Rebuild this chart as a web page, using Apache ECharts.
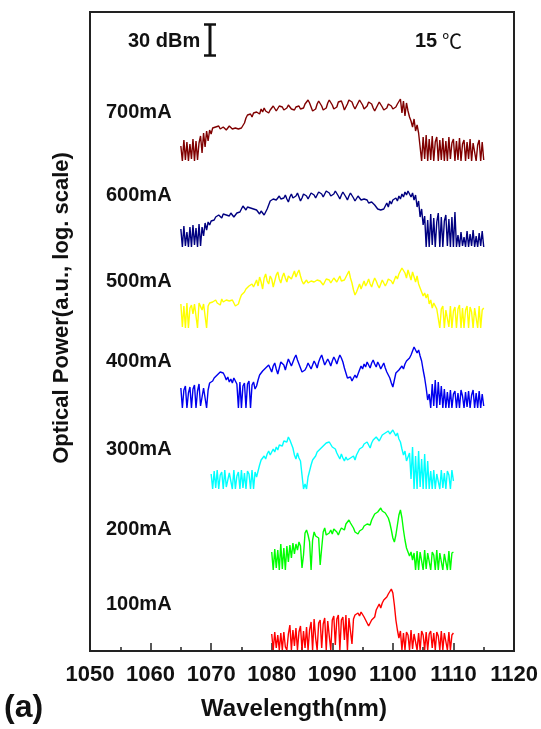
<!DOCTYPE html>
<html>
<head>
    <meta charset="utf-8" />
    <title>Optical spectra vs current</title>
    <script src="https://cdn.jsdelivr.net/npm/echarts@6/dist/echarts.min.js"></script>
    <style type="text/css">
        html, body {
            margin: 0;
            padding: 0;
            background-color: #fff;
        }

        #chart {
            width: 541px;
            height: 729px;
        }
    </style>
</head>
<body>
    <div id="chart"></div>
    <script type="text/javascript">
        // x axis ticks
        var xTicks = [1050, 1060, 1070, 1080, 1090, 1100, 1110, 1120];
        var labels = ['700mA', '600mA', '500mA', '400mA', '300mA', '200mA', '100mA'];
        var colors = ['#800000', '#000080', '#ffff00', '#0000ee', '#00ffff', '#00ff00', '#ff0000'];
        // vertical offset of each trace (a.u.), noise floor of the trace
        var offsets = [490, 404, 323, 243, 162, 81, 1];
        // first wavelength (nm) of each trace, sampling step 0.25 nm
        var startWl = [1065, 1065, 1065, 1065, 1070, 1080, 1080];
        var stepWl = 0.25;

        // heights above the trace floor (a.u., log scale)
        var p700 = [
            15, 0, 21, 1, 19, 0, 17, 2, 22, 0, 20, 1, 18,
            25, 8, 28, 14, 30, 20, 31, 27, 33, 34,
            34, 33, 35, 32, 33, 34, 32, 31, 33, 35, 33, 32, 30, 33, 34, 32, 31, 33, 34,
            38, 43, 46, 45, 47, 44, 48, 46, 49,
            50, 47, 52, 49, 53, 50, 52, 48, 51, 53,
            55, 53, 50, 52, 55, 56, 54, 51, 50, 53, 56, 55, 52, 50, 51, 54, 56, 55, 52, 51, 53, 57, 59, 61,
            58, 54, 50, 49, 52, 57, 60, 59, 55, 51, 50, 53, 58, 61, 60, 56, 52, 50, 54, 59,
            61, 60, 56, 51, 52, 57, 61, 62, 59, 55, 52, 53, 58, 61, 60, 56, 52, 51, 55, 59,
            60, 57, 53, 50, 52, 56, 59, 58, 54, 51, 50, 53, 57, 58, 55, 52, 51, 54, 57, 56,
            62, 48, 60, 45, 58, 50, 44,
            40, 34, 42, 30, 36, 28,
            27, 0, 24, 2, 26, 0, 22, 1, 25, 0, 19, 24, 0, 21, 1, 23, 0, 20, 0, 24,
            2, 18, 22, 0, 20, 1, 23, 0, 17, 21, 0, 19, 2, 22, 0, 18, 20, 0, 16, 21, 0, 19, 1
        ];
        var p600 = [
            18, 0, 21, 1, 15, 0, 20, 0, 22, 2, 19, 0, 23, 1,
            20, 11, 24, 17, 25, 22, 26, 28,
            27, 30, 29, 32, 31, 29, 33, 35, 32, 30, 31, 34, 33, 30, 32,
            34, 36, 35, 38, 41, 39, 37, 40, 42, 39, 41, 38,
            40, 37, 35, 33, 36, 34, 32, 35, 38,
            42, 46, 44, 48, 50, 47, 49, 51, 48,
            46, 49, 52, 48, 45, 50, 53, 49, 47, 51, 54, 50, 46, 49, 53, 55, 51, 48, 50, 54,
            56, 52, 49, 51, 55, 57, 53, 50, 52, 56, 58, 54, 51, 49, 53, 56, 55, 51, 48, 52,
            55, 53, 50, 47, 51, 54, 52, 49, 46, 48, 51, 50, 47, 45, 48, 50, 47, 44, 43, 45, 44, 42,
            40, 38, 36, 37, 39, 38,
            41, 44, 40, 46, 43, 47, 45, 49, 46, 51, 48, 53, 50, 55, 52,
            56, 58, 50, 54, 47,
            52, 40, 46, 30, 38, 22,
            31, 0, 27, 0, 33, 2, 29, 0, 25, 34, 0, 30, 0, 26, 32, 1, 28, 0, 30, 0, 35, 0,
            12, 0, 15, 1, 10, 0, 16, 0, 13, 1, 17, 0, 11, 0, 14, 1, 16, 0
        ];
        var p500 = [
            24, 1, 22, 0, 25, 0, 20, 23, 14, 24, 22, 0, 25, 23, 18, 24, 26, 0, 22, 25, 23,
            26, 24, 28, 25, 27, 23, 29, 26, 24, 28, 30, 27, 25, 28, 26, 22,
            20, 24, 29, 33, 31, 36, 39, 37, 42, 40, 44, 41, 43,
            48, 42, 51, 46, 39, 50, 54, 47, 44, 52, 49, 41, 47, 53, 56, 49, 45, 51, 55, 50,
            46, 52, 54, 49, 53, 57, 51, 55, 58,
            52, 47, 44, 46, 48, 45, 43, 47, 49, 46, 44, 48, 50, 47, 45, 43, 46, 49, 51, 48,
            45, 47, 50, 48, 46, 49, 52, 47, 45, 48, 51, 53,
            57, 50, 45, 38, 33, 36,
            40, 44, 39, 43, 47, 42, 45, 49, 44, 41, 46, 50, 47, 43, 40, 44, 48, 46, 42, 45,
            49, 51, 47, 44, 48, 52, 49, 54, 57,
            60, 62, 55, 50, 58, 53, 48, 56, 51, 46,
            52, 44, 40, 36, 32, 35, 30, 34,
            24, 28, 20, 25, 22, 19,
            21, 0, 19, 22, 0, 18, 20, 1, 22, 0, 17, 21, 0, 19, 23, 0, 20, 0, 18, 22,
            0, 21, 16, 0, 20, 19, 0, 22, 0, 18, 20
        ];
        var p400 = [
            20, 0, 18, 22, 0, 15, 21, 0, 19, 23, 0, 17, 24, 2, 0, 20, 22, 0, 18, 25, 23,
            27, 30, 28, 33, 31, 36, 38,
            35, 32, 28, 31, 26, 29, 25, 30, 27,
            24, 0, 26, 0, 22, 25, 0, 24, 27, 0, 23, 26, 19, 22,
            28, 33, 31, 37, 35, 40, 38, 43, 41,
            36, 42, 45, 39, 34, 40, 46, 48, 43, 38, 44, 49, 47, 42, 46, 50, 53, 48,
            44, 40, 36, 34, 38, 41,
            45, 42, 39, 43, 47, 44, 40, 46, 50, 53, 48, 43, 45, 49, 46, 42, 47, 51, 48, 44, 49,
            53, 50, 46,
            40, 35, 30, 28, 31, 27, 29, 33, 30, 34,
            38, 42, 39, 44, 41, 46, 43, 40, 45, 48, 44, 41, 46, 43, 39, 42, 45, 40, 36, 33, 30, 25, 21,
            28, 35, 33, 38, 36, 42, 39, 44, 47, 45, 50, 53, 57, 61, 59, 55, 58,
            52, 47, 38, 30, 20, 8,
            14, 0, 24, 2, 28, 0, 26, 3, 22, 0, 19, 0,
            16, 0, 18, 0, 14, 17, 0, 15, 0, 18, 12, 0, 16, 1, 17, 0, 13, 18, 0, 15, 0, 17, 0, 14, 2
        ];
        var p300 = [
            15, 0, 18, 1, 19, 0, 14, 17, 0, 19, 2, 0, 16, 18, 0, 19, 0, 13, 17, 0,
            19, 1, 16, 0, 18, 15, 0, 19, 0, 17, 12, 18,
            24, 29, 27, 33, 30, 35, 38, 34, 36, 40, 37, 42, 39, 44, 46, 43, 48, 50, 47,
            52, 49, 45, 41,
            34, 30, 36, 31, 28,
            14, 0, 5, 0, 12,
            18, 24, 29, 27, 33, 37, 35, 40, 38, 43, 41, 46, 44, 47,
            45, 42, 44, 40, 36, 33, 30, 35, 31,
            28, 32, 29, 27, 31, 30, 33, 29, 34,
            36, 40, 38, 42, 45, 43, 47, 44, 41, 46, 49, 47, 52, 50, 48, 51, 54,
            52, 56, 54, 58, 55, 57, 59, 56,
            53, 56, 50, 47,
            40, 34, 38, 28, 32,
            36, 10, 42, 0, 33, 0, 38, 2, 30, 0, 35, 0, 28, 0,
            18, 0, 19, 0, 15, 17, 0, 19, 1, 16, 0, 18, 14, 0, 19, 8
        ];
        var p200 = [
            18, 0, 21, 2, 20, 0, 26, 1, 22, 0, 24, 8, 25, 12, 27, 16, 26, 20, 28, 24,
            2, 15,
            37, 40, 35, 28, 0,
            30, 38, 34, 36, 32,
            5, 22,
            38, 42, 35, 33, 37, 40, 36, 41, 43, 38, 35, 39, 42, 44, 40, 46, 48, 50,
            47, 45, 42, 38, 40, 36, 39, 37,
            41, 44, 42, 46, 48, 45, 50, 53, 56, 54, 58, 60, 62,
            59, 61, 57, 55, 52, 47, 40, 32,
            28, 35, 45, 55,
            60, 52, 40, 30, 22,
            20, 14, 18, 10,
            17, 0, 19, 0, 18, 16, 0, 20, 1, 17, 19, 0, 18, 15, 0, 20, 0, 17, 19, 0,
            16, 18, 0, 19, 0, 17, 18
        ];
        var p100 = [
            16, 0, 18, 2, 15, 0, 17, 0, 18, 3, 0, 16,
            25, 0, 20, 4, 22, 0, 18, 24, 0, 19, 2, 23, 0, 20,
            28, 0, 31, 12, 0, 27, 30, 2, 26, 32, 0, 29, 14, 0, 30,
            34, 5, 31, 35, 0, 30, 33, 10, 35, 0, 32, 34, 6, 31, 35, 33,
            37, 34, 38, 36, 33, 35,
            27, 24, 26, 30, 28, 33,
            40, 43, 46, 42, 47, 50, 48, 53, 56, 58,
            61, 57,
            45, 30, 20, 12,
            19, 0, 17, 0, 18, 15, 0, 20, 1, 16, 18, 0, 17, 0, 19, 15, 0, 18, 0, 16,
            19, 2, 17, 0, 18, 14, 0, 19, 0, 17, 16, 0, 18, 0, 15, 17
        ];
        var traces = [p700, p600, p500, p400, p300, p200, p100];

        var font = '"Liberation Sans", Arial, sans-serif';
        var myChart = echarts.init(document.getElementById('chart'), null, { renderer: 'canvas' });

        var series = traces.map(function (vals, k) {
            return {
                name: labels[k],
                type: 'line',
                showSymbol: false,
                animation: false,
                silent: true,
                sampling: null,
                lineStyle: { color: colors[k], width: 1.4 },
                data: vals.map(function (v, i) {
                    return [startWl[k] + i * stepWl, offsets[k] + v];
                })
            };
        });

        // current labels next to each trace
        var labelY = [113, 196, 282, 362, 450, 530, 605];
        var graphics = labels.map(function (t, k) {
            return {
                type: 'text', left: 106, top: labelY[k] - 11,
                style: { text: t, font: 'bold 20px ' + font, fill: '#111' }
            };
        });
        graphics.push(
            { type: 'text', left: 128, top: 31, style: { text: '30 dBm', font: 'bold 20px ' + font, fill: '#111' } },
            { type: 'line', shape: { x1: 210, y1: 24, x2: 210, y2: 56 }, style: { stroke: '#111', lineWidth: 3 } },
            { type: 'line', shape: { x1: 204, y1: 24.5, x2: 216, y2: 24.5 }, style: { stroke: '#111', lineWidth: 2.5 } },
            { type: 'line', shape: { x1: 204, y1: 55.5, x2: 216, y2: 55.5 }, style: { stroke: '#111', lineWidth: 2.5 } },
            { type: 'text', left: 415, top: 31, style: { text: '15', font: 'bold 20px ' + font, fill: '#111' } },
            { type: 'text', left: 442, top: 31, style: { text: '℃', font: '20px "Noto Sans CJK SC", sans-serif', fill: '#111' } },
            {
                type: 'text', x: 62, y: 308, rotation: Math.PI / 2,
                style: { text: 'Optical Power(a.u., log. scale)', font: 'bold 22px ' + font, fill: '#111', align: 'center', verticalAlign: 'middle' }
            },
            {
                type: 'text', x: 294, y: 709,
                style: { text: 'Wavelength(nm)', font: 'bold 24px ' + font, fill: '#111', align: 'center', verticalAlign: 'middle' }
            },
            { type: 'text', left: 4, top: 692, style: { text: '(a)', font: 'bold 32px ' + font, fill: '#111' } }
        );

        var ChartOption = {
            backgroundColor: '#fff',
            animation: false,
            grid: {
                left: 90, right: 27, top: 12, bottom: 78,
                show: true, borderColor: '#222', borderWidth: 2, backgroundColor: 'transparent'
            },
            xAxis: {
                type: 'value',
                min: xTicks[0],
                max: xTicks[xTicks.length - 1],
                interval: 10,
                axisLine: { show: true, onZero: false, lineStyle: { color: '#222', width: 2 } },
                axisTick: { show: true, inside: true, length: 8, lineStyle: { color: '#222', width: 1.5 } },
                minorTick: { show: true, splitNumber: 2, length: 4, lineStyle: { color: '#222', width: 1.5 } },
                splitLine: { show: false },
                axisLabel: {
                    margin: 13, color: '#111', fontFamily: font, fontWeight: 'bold', fontSize: 22,
                    formatter: function (v) { return String(v); }
                }
            },
            yAxis: {
                type: 'value',
                min: 0,
                max: 639,
                axisLine: { show: false },
                axisTick: { show: false },
                axisLabel: { show: false },
                splitLine: { show: false }
            },
            graphic: graphics,
            series: series
        };
        myChart.setOption(ChartOption);
        window.onresize = myChart.resize;
    </script>
</body>
</html>
